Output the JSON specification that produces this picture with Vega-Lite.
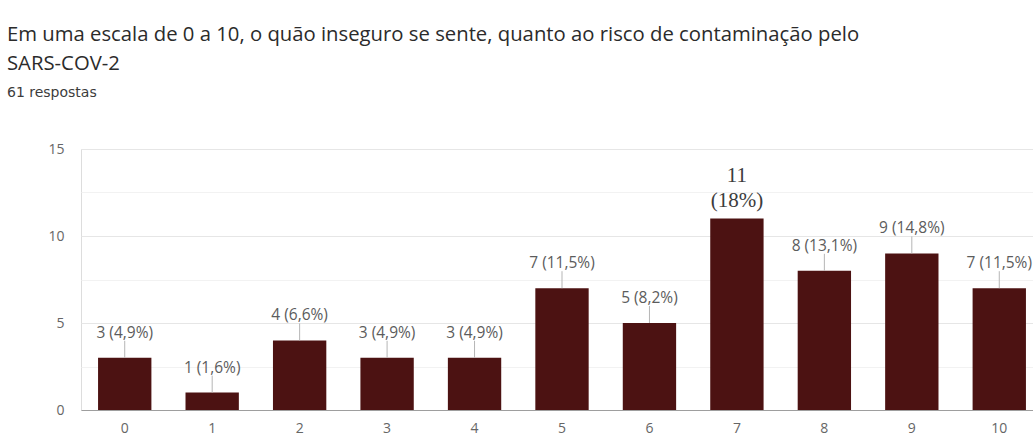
{
  "$schema": "https://vega.github.io/schema/vega-lite/v6.json",
  "autosize": "none",
  "padding": {"left": 81, "top": 149, "right": 0, "bottom": 27},
  "width": 962,
  "height": 261,
  "background": "#ffffff",
  "title": {
    "text": ["Em uma escala de 0 a 10, o quão inseguro se sente, quanto ao risco de contaminação pelo", "SARS-COV-2"],
    "subtitle": "61 respostas",
    "anchor": "start",
    "frame": "group",
    "dx": -74,
    "offset": 42,
    "font": "Open Sans",
    "fontSize": 20.3,
    "fontWeight": "normal",
    "color": "#2b2b2b",
    "lineHeight": 29,
    "subtitleFont": "DejaVu Sans",
    "subtitleFontSize": 14,
    "subtitleColor": "#3c3c3c",
    "subtitlePadding": 12
  },
  "data": {
    "values": [
      {"escala": "0", "n": 3, "label": "3 (4,9%)"},
      {"escala": "1", "n": 1, "label": "1 (1,6%)"},
      {"escala": "2", "n": 4, "label": "4 (6,6%)"},
      {"escala": "3", "n": 3, "label": "3 (4,9%)"},
      {"escala": "4", "n": 3, "label": "3 (4,9%)"},
      {"escala": "5", "n": 7, "label": "7 (11,5%)"},
      {"escala": "6", "n": 5, "label": "5 (8,2%)"},
      {"escala": "7", "n": 11, "label": "11 (18%)"},
      {"escala": "8", "n": 8, "label": "8 (13,1%)"},
      {"escala": "9", "n": 9, "label": "9 (14,8%)"},
      {"escala": "10", "n": 7, "label": "7 (11,5%)"}
    ]
  },
  "encoding": {
    "x": {
      "field": "escala",
      "type": "ordinal",
      "sort": null,
      "scale": {"paddingInner": 0.39, "paddingOuter": 0.195},
      "axis": {
        "title": null,
        "labelAngle": 0,
        "labelFont": "Open Sans",
        "labelFontSize": 14,
        "labelColor": "#666666",
        "labelPadding": 11,
        "ticks": false,
        "domainColor": "#9e9e9e",
        "domainWidth": 1.2
      }
    },
    "y": {
      "field": "n",
      "type": "quantitative",
      "scale": {"domain": [0, 15], "nice": false},
      "axis": {
        "title": null,
        "values": [0, 2.5, 5, 7.5, 10, 12.5, 15],
        "labelExpr": "datum.value % 5 === 0 ? datum.label : ''",
        "labelFont": "Open Sans",
        "labelFontSize": 14,
        "labelColor": "#666666",
        "labelPadding": 17,
        "ticks": false,
        "domain": false,
        "gridColor": {"condition": {"test": "datum.value % 5 === 0", "value": "#e6e6e6"}, "value": "#f2f2f2"},
        "gridWidth": 1
      }
    }
  },
  "layer": [
    {
      "mark": {"type": "bar", "color": "#4c1212"}
    },
    {
      "transform": [{"filter": "datum.escala !== '7'"}],
      "mark": {"type": "rule", "color": "#b5b5b5", "strokeWidth": 1, "y2Offset": -17},
      "encoding": {"y2": {"field": "n"}}
    },
    {
      "transform": [{"filter": "datum.escala !== '7'"}],
      "mark": {"type": "text", "baseline": "alphabetic", "dy": -20, "font": "Open Sans", "fontSize": 15.5, "color": "#5c5c5c"},
      "encoding": {"text": {"field": "label"}}
    },
    {
      "transform": [{"filter": "datum.escala === '7'"}],
      "mark": {"type": "text", "baseline": "alphabetic", "dy": -37, "font": "Liberation Serif", "fontSize": 21, "lineHeight": 25, "lineBreak": " ", "color": "#3c3c3c"},
      "encoding": {"text": {"field": "label"}}
    }
  ]
}
